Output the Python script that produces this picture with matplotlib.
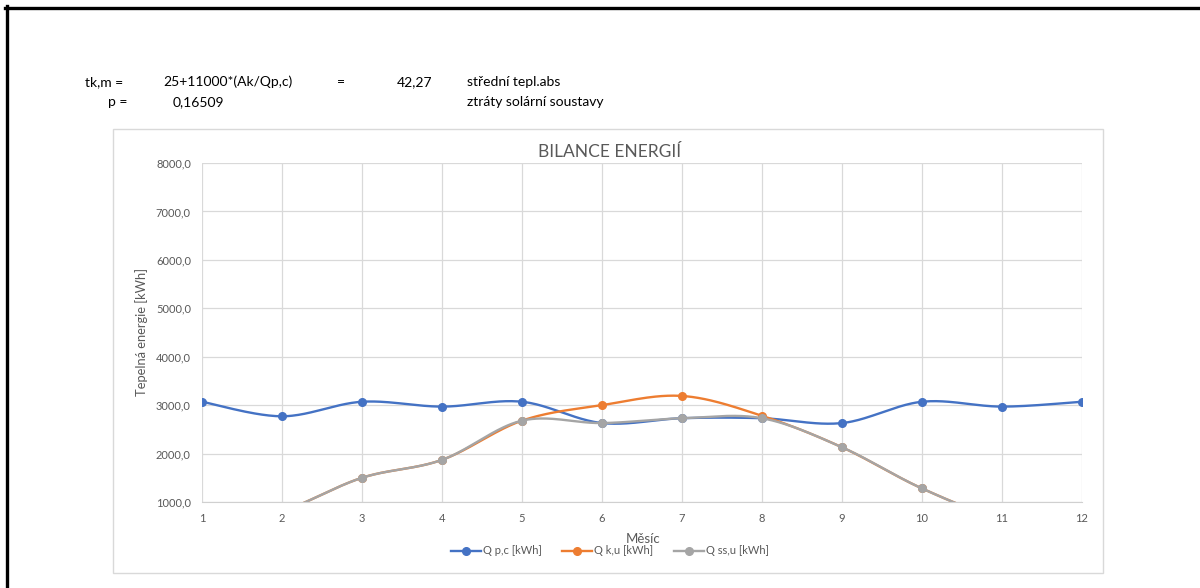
import numpy as np
import matplotlib
matplotlib.use("Agg")
import matplotlib.pyplot as plt
from matplotlib.lines import Line2D
from matplotlib.patches import Rectangle

plt.rcParams['font.family'] = ['Lato', 'DejaVu Sans']

# Monthly energy balance
months = [1, 2, 3, 4, 5, 6, 7, 8, 9, 10, 11, 12]
q_pc = [3070, 2770, 3070, 2970, 3070, 2630, 2730, 2730, 2630, 3070, 2970, 3070]
q_ku = [350, 800, 1500, 1870, 2680, 3000, 3190, 2780, 2130, 1280, 640, 350]
q_ssu = [350, 800, 1500, 1870, 2680, 2630, 2730, 2730, 2130, 1280, 640, 350]

series_names = ["Q p,c [kWh]", "Q k,u [kWh]", "Q ss,u [kWh]"]
series_colors = ["#4472C4", "#ED7D31", "#A5A5A5"]
y_ticks = [1000, 2000, 3000, 4000, 5000, 6000, 7000, 8000]


def smooth(x, y, n=40):
    """Catmull-Rom curve through the points (spreadsheet-style smoothed line)."""
    x = np.asarray(x, float)
    y = np.asarray(y, float)
    px = np.concatenate([[x[0]], x, [x[-1]]])
    py = np.concatenate([[y[0]], y, [y[-1]]])
    xs, ys = [], []
    t = np.linspace(0, 1, n)
    for i in range(1, len(px) - 2):
        p0, p1, p2, p3 = px[i - 1], px[i], px[i + 1], px[i + 2]
        q0, q1, q2, q3 = py[i - 1], py[i], py[i + 1], py[i + 2]
        mx1, mx2 = (p2 - p0) / 2, (p3 - p1) / 2
        my1, my2 = (q2 - q0) / 2, (q3 - q1) / 2
        h00 = 2 * t**3 - 3 * t**2 + 1
        h10 = t**3 - 2 * t**2 + t
        h01 = -2 * t**3 + 3 * t**2
        h11 = t**3 - t**2
        xs.append(h00 * p1 + h10 * mx1 + h01 * p2 + h11 * mx2)
        ys.append(h00 * q1 + h10 * my1 + h01 * q2 + h11 * my2)
    return np.concatenate(xs), np.concatenate(ys)


W, H = 1200, 588
fig = plt.figure(figsize=(W / 100, H / 100), dpi=100)

# page border (top and left edges)
fig.add_artist(Line2D([5 / W, 1], [1 - 7.5 / H, 1 - 7.5 / H], color="black", lw=2.4,
                      transform=fig.transFigure))
fig.add_artist(Line2D([6.5 / W, 6.5 / W], [0, 1 - 6 / H], color="black", lw=2.4,
                      transform=fig.transFigure))

# header text rows
txt = dict(fontsize=10, color="#000000", va="center")
fig.text(85 / W, 1 - 82 / H, "tk,m =", **txt)
fig.text(163 / W, 1 - 82 / H, "25+11000*(Ak/Qp,c)", **txt)
fig.text(337 / W, 1 - 82 / H, "=", **txt)
fig.text(432 / W, 1 - 82 / H, "42,27", ha="right", **txt)
fig.text(467 / W, 1 - 82 / H, "střední tepl.abs", **txt)
fig.text(108 / W, 1 - 102 / H, "p =", **txt)
fig.text(173 / W, 1 - 102 / H, "0,16509", **txt)
fig.text(467 / W, 1 - 102 / H, "ztráty solární soustavy", **txt)

# chart frame
fig.add_artist(Rectangle((113 / W, 1 - 573 / H), (1103 - 113) / W, (573 - 129) / H,
                         transform=fig.transFigure, fill=False, edgecolor="#D9D9D9", lw=1.0))

ax = fig.add_axes([202 / W, 1 - 502 / H, 880 / W, 339 / H])
ax.set_xlim(1, 12)
ax.set_ylim(1000, 8000)
ax.set_xticks(months)
ax.set_xticklabels([str(m) for m in months])
ax.set_yticks(y_ticks)
ax.set_yticklabels([f"{v:.1f}".replace(".", ",") for v in y_ticks])
ax.grid(True, color="#D9D9D9", lw=0.9)
ax.set_axisbelow(True)
for s in ["top", "right", "left"]:
    ax.spines[s].set_visible(False)
ax.spines["bottom"].set_color("#D0D0D0")
ax.tick_params(length=0, labelsize=8, colors="#595959", pad=8)

handles = []
for vals, name, col in zip([q_pc, q_ku, q_ssu], series_names, series_colors):
    sx, sy = smooth(months, vals)
    ax.plot(sx, sy, color=col, lw=1.7, solid_capstyle="round")
    ax.plot(months, vals, "o", color=col, ms=5.5, lw=0)
    handles.append(Line2D([], [], color=col, lw=1.7, marker="o", ms=5.5, label=name))

fig.text(610 / W, 1 - 152 / H, "BILANCE ENERGIÍ", fontsize=12.5, color="#595959",
         ha="center", va="center")
ax.set_ylabel("Tepelná energie [kWh]", fontsize=9.3, color="#595959", labelpad=6)
fig.text(643 / W, 1 - 539 / H, "Měsíc", fontsize=9.5, color="#595959", ha="center", va="center")

fig.legend(handles=handles, loc="center", bbox_to_anchor=(610 / W, 1 - 551 / H), ncol=3,
           frameon=False, fontsize=8, labelcolor="#595959", handlelength=2.7,
           handletextpad=0.2, columnspacing=1.8, borderpad=0)

fig.savefig("out.png", dpi=100, facecolor="white")
